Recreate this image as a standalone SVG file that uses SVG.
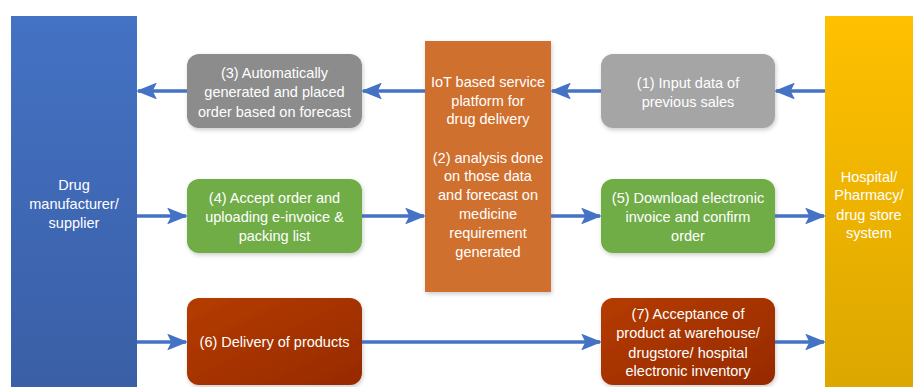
<svg xmlns="http://www.w3.org/2000/svg" width="913" height="387" viewBox="0 0 913 387">
<style>
.t{font-family:"Liberation Sans",Arial,sans-serif;font-size:14.5px;fill:#ffffff;text-anchor:middle}
.c{stroke:#4472C4;stroke-width:3.5;fill:none;marker-end:url(#ah)}
</style>
<defs>
<marker id="ah" markerWidth="6" markerHeight="4.8" refX="5.4" refY="2.4" orient="auto" markerUnits="strokeWidth">
<path d="M0,0 L6,2.4 L0,4.8 L1.2,2.4 Z" fill="#4472C4"/>
</marker>
<linearGradient id="gb" x1="0" y1="0" x2="0" y2="1"><stop offset="0" stop-color="#4472C4"/><stop offset="1" stop-color="#3A5FA6"/></linearGradient>
<linearGradient id="gy" x1="0" y1="0" x2="0" y2="1"><stop offset="0" stop-color="#FFC000"/><stop offset="1" stop-color="#DCA700"/></linearGradient>
<linearGradient id="gr" x1="0" y1="0" x2="1" y2="1"><stop offset="0" stop-color="#B53C03"/><stop offset="1" stop-color="#962A00"/></linearGradient>
<filter id="sh" x="-10%" y="-10%" width="125%" height="130%"><feDropShadow dx="1" dy="2" stdDeviation="2" flood-color="#000" flood-opacity="0.2"/></filter>
</defs>
<g id="supplier"><rect x="11" y="16" width="126" height="371" fill="url(#gb)"/>
<text class="t" x="74" y="190">Drug</text><text class="t" x="74" y="209">manufacturer/</text><text class="t" x="74" y="228">supplier</text></g>
<g id="hospital"><rect x="825" y="16" width="88" height="371" fill="url(#gy)"/>
<text class="t" x="869" y="182">Hospital/</text><text class="t" x="869" y="200">Pharmacy/</text><text class="t" x="869" y="220">drug store</text><text class="t" x="869" y="238">system</text></g>
<g id="platform"><rect x="425" y="41" width="126" height="251" fill="#D0702F" filter="url(#sh)"/>
<text class="t" x="488" y="87">IoT based service</text><text class="t" x="488" y="106">platform for</text><text class="t" x="488" y="124">drug delivery</text>
<text class="t" x="488" y="163">(2) analysis done</text><text class="t" x="488" y="181">on those data</text><text class="t" x="488" y="200">and forecast on</text><text class="t" x="488" y="219">medicine</text><text class="t" x="488" y="238">requirement</text><text class="t" x="488" y="257">generated</text></g>
<g id="n3"><rect x="187" y="54" width="175" height="74" rx="12" fill="#8C8C8C" filter="url(#sh)"/>
<text class="t" x="274.5" y="78">(3) Automatically</text><text class="t" x="274.5" y="97">generated and placed</text><text class="t" x="274.5" y="117">order based on forecast</text></g>
<g id="n1"><rect x="601" y="54" width="174" height="74" rx="12" fill="#A5A5A5" filter="url(#sh)"/>
<text class="t" x="688" y="88">(1) Input data of</text><text class="t" x="688" y="107">previous sales</text></g>
<g id="n4"><rect x="187" y="179" width="175" height="74" rx="12" fill="#70AD47" filter="url(#sh)"/>
<text class="t" x="274.5" y="203">(4) Accept order and</text><text class="t" x="274.5" y="222">uploading e-invoice &amp;</text><text class="t" x="274.5" y="241">packing list</text></g>
<g id="n5"><rect x="601" y="179" width="174" height="74" rx="12" fill="#70AD47" filter="url(#sh)"/>
<text class="t" x="688" y="203">(5) Download electronic</text><text class="t" x="688" y="222">invoice and confirm</text><text class="t" x="688" y="241">order</text></g>
<g id="n6"><rect x="187" y="298" width="175" height="87" rx="12" fill="url(#gr)" filter="url(#sh)"/>
<text class="t" x="274.5" y="347">(6) Delivery of products</text></g>
<g id="n7"><rect x="601" y="298" width="174" height="87" rx="12" fill="url(#gr)" filter="url(#sh)"/>
<text class="t" x="688" y="319">(7) Acceptance of</text><text class="t" x="688" y="338">product at warehouse/</text><text class="t" x="688" y="358">drugstore/ hospital</text><text class="t" x="688" y="376">electronic inventory</text></g>
<g id="connectors">
<path class="c" d="M425,91 H363"/>
<path class="c" d="M187,91 H138"/>
<path class="c" d="M825,91 H776"/>
<path class="c" d="M601,91 H552"/>
<path class="c" d="M137,216 H186"/>
<path class="c" d="M362,216 H424"/>
<path class="c" d="M551,216 H600"/>
<path class="c" d="M775,216 H824"/>
<path class="c" d="M137,342 H186"/>
<path class="c" d="M362,342 H600"/>
<path class="c" d="M775,342 H824"/>
</g>
</svg>
